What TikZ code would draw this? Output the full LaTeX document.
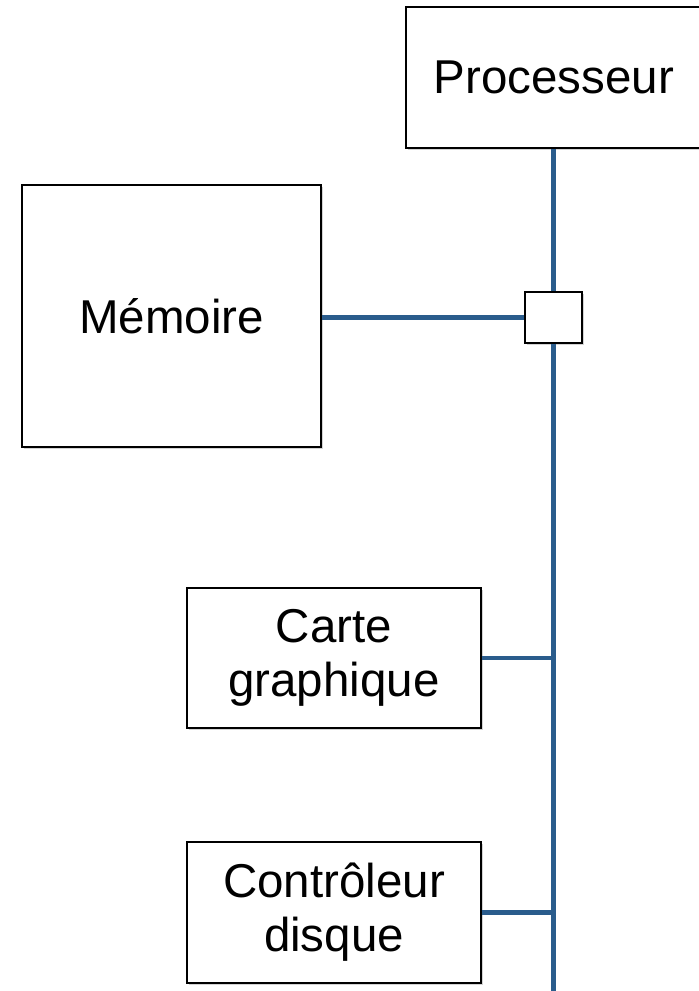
\documentclass[tikz,border=0pt]{standalone}
\usepackage{fontspec}
\setmainfont{Liberation Sans}
\usetikzlibrary{shadows}
\definecolor{busblue}{RGB}{42,92,140}
\begin{document}
\begin{tikzpicture}[x=1pt,y=-1pt,
  box/.style={draw=black, line width=1.8pt, fill=white, rectangle,
    drop shadow={shadow xshift=1.5pt, shadow yshift=-2pt, opacity=0.35},
    inner sep=0pt, align=center, font=\fontsize{47.5}{54}\selectfont},
  bus/.style={draw=busblue, line width=4.5pt}]
\useasboundingbox (0,0) rectangle (699,991);
\node[box, minimum width=296pt, minimum height=141pt] (proc) at (554,77.5) {Processeur};
\node[box, minimum width=57pt, minimum height=51pt] (hub) at (553.5,317.5) {};
\node[box, minimum width=299pt, minimum height=262pt] (mem) at (171.5,316) {Mémoire};
\node[box, minimum width=294pt, minimum height=140pt] (carte) at (334,658) {Carte\\graphique};
\node[box, minimum width=294pt, minimum height=141pt] (ctrl) at (334,912.5) {Contrôleur\\disque};
\coordinate (busend) at (553.5,996);
\draw[bus] (proc.south -| hub) -- (hub.north);
\draw[bus] (hub.south) -- (busend);
\draw[bus] (mem.east |- hub.west) -- (hub.west);
\draw[bus] (carte.east) -- (carte.east -| hub);
\draw[bus] (ctrl.east) -- (ctrl.east -| hub);
\end{tikzpicture}
\end{document}
